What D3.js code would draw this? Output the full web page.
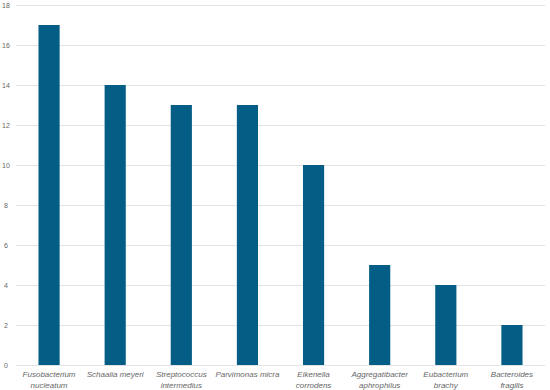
<!DOCTYPE html>
<html lang="en">
<head>
    <meta charset="UTF-8">
    <title>Bacteria counts</title>
    <script src="https://d3js.org/d3.v7.min.js"></script>
    <style>
        html, body { margin: 0; padding: 0; background: white; }
        text { font-family: 'Liberation Sans', Arial, sans-serif; }
    </style>
</head>
<body>
    <div class="content"></div>
    <script>
        // data
        const species = ["Fusobacterium nucleatum", "Schaalia meyeri", "Streptococcus intermedius",
            "Parvimonas micra", "Eikenella corrodens", "Aggregatibacter aphrophilus",
            "Eubacterium brachy", "Bacteroides fragilis"];
        const labelLines = [["Fusobacterium", "nucleatum"], ["Schaalia meyeri"], ["Streptococcus", "intermedius"],
            ["Parvimonas micra"], ["Eikenella", "corrodens"], ["Aggregatibacter", "aphrophilus"],
            ["Eubacterium", "brachy"], ["Bacteroides", "fragilis"]];
        const counts = [17, 14, 13, 13, 10, 5, 4, 2];
        const yTicks = [0, 2, 4, 6, 8, 10, 12, 14, 16, 18];

        const w = 550;
        const h = 390;
        const plotLeft = 16, plotRight = 545, plotTop = 5, plotBottom = 365;

        const svg = d3.select(".content")
            .append("svg")
            .attr("width", w)
            .attr("height", h);

        const x = d3.scaleBand()
            .domain(species)
            .range([plotLeft, plotRight])
            .paddingInner(0.68)
            .paddingOuter(0.34);

        const y = d3.scaleLinear()
            .domain([0, 18])
            .range([plotBottom, plotTop]);

        // gridlines
        svg.selectAll("line.grid")
            .data(yTicks)
            .enter()
            .append("line")
            .attr("x1", plotLeft)
            .attr("x2", plotRight)
            .attr("y1", d => y(d) + 0.5)
            .attr("y2", d => y(d) + 0.5)
            .attr("stroke", "#e3e3e3")
            .attr("stroke-width", 1);

        // y tick labels
        svg.selectAll("text.ytick")
            .data(yTicks)
            .enter()
            .append("text")
            .text(d => d)
            .attr("x", 6)
            .attr("y", d => y(d) + 2.5)
            .attr("text-anchor", "middle")
            .attr("fill", "#666")
            .attr("font-size", "7px");

        // bars
        svg.selectAll("rect")
            .data(counts)
            .enter()
            .append("rect")
            .attr("x", (d, i) => x(species[i]))
            .attr("y", d => y(d))
            .attr("width", x.bandwidth())
            .attr("height", d => y(0) - y(d))
            .attr("fill", "#035d84");

        // category labels
        const labels = svg.selectAll("text.cat")
            .data(species)
            .enter()
            .append("text")
            .attr("x", d => x(d) + x.bandwidth() / 2)
            .attr("y", 377)
            .attr("text-anchor", "middle")
            .attr("fill", "#666")
            .attr("font-style", "italic")
            .attr("font-size", "8px");

        labels.each(function (d, i) {
            d3.select(this).selectAll("tspan")
                .data(labelLines[i])
                .enter()
                .append("tspan")
                .attr("x", x(d) + x.bandwidth() / 2)
                .attr("dy", (t, j) => j === 0 ? 0 : 10.5)
                .text(t => t);
        });
    </script>
</body>
</html>
